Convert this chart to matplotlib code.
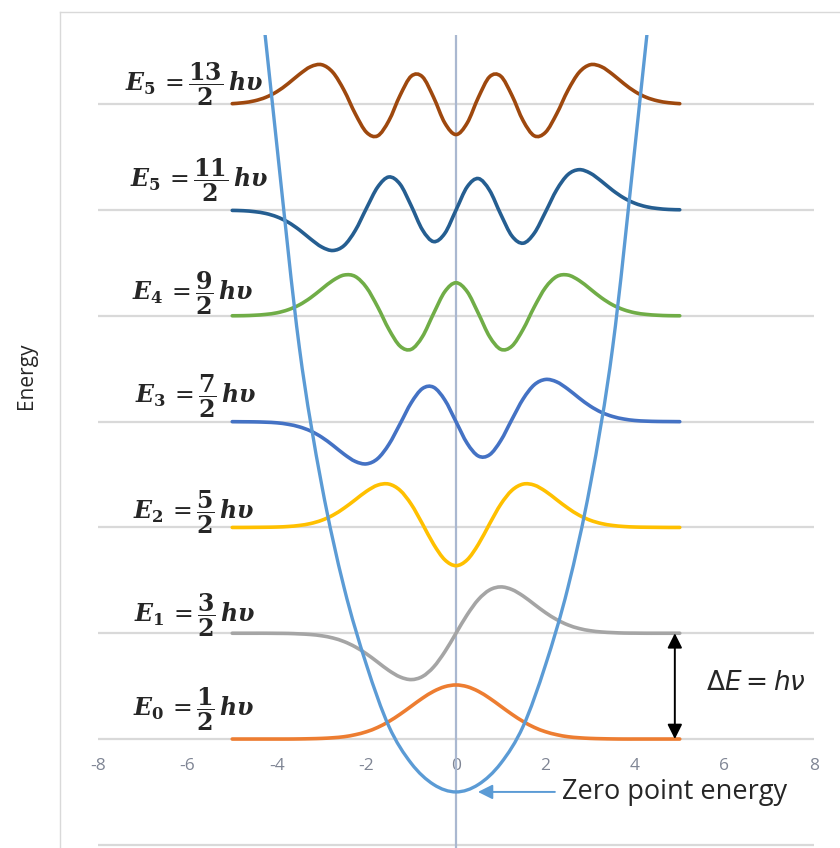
import numpy as np
import matplotlib
matplotlib.use("Agg")
import matplotlib.pyplot as plt
from matplotlib.path import Path
from matplotlib.patches import PathPatch
from matplotlib.lines import Line2D

plt.rcParams["mathtext.fontset"] = "dejavuserif"

# sampling grid of the wave functions (x from -5 to 5, step 0.25)
X = np.linspace(-5, 5, 41)

# energy levels (in units of h*nu)
LEVELS = [0.5, 1.5, 2.5, 3.5, 4.5, 5.5, 6.5]

# wave function values, relative to each level
PSI_0 = [0.000, 0.000, 0.000, 0.000, 0.000, 0.000, 0.001, 0.003, 0.006, 0.012, 0.022, 0.041,
         0.069, 0.110, 0.166, 0.234, 0.310, 0.386, 0.451, 0.495, 0.511, 0.495, 0.451, 0.386,
         0.310, 0.234, 0.166, 0.110, 0.069, 0.041, 0.022, 0.012, 0.006, 0.003, 0.001, 0.000,
         0.000, 0.000, 0.000, 0.000, 0.000]
PSI_1 = [0.000, 0.000, 0.000, 0.000, -0.001, -0.002, -0.006, -0.012, -0.024, -0.045, -0.079,
         -0.129, -0.195, -0.273, -0.352, -0.413, -0.438, -0.409, -0.319, -0.175, 0.000, 0.175,
         0.319, 0.409, 0.438, 0.413, 0.352, 0.273, 0.195, 0.129, 0.079, 0.045, 0.024, 0.012,
         0.006, 0.002, 0.001, 0.000, 0.000, 0.000, 0.000]
PSI_2 = [0.000, 0.000, 0.001, 0.002, 0.004, 0.009, 0.019, 0.037, 0.068, 0.116, 0.183, 0.262,
         0.342, 0.400, 0.410, 0.351, 0.219, 0.034, -0.159, -0.306, -0.361, -0.306, -0.159,
         0.034, 0.219, 0.351, 0.410, 0.400, 0.342, 0.262, 0.183, 0.116, 0.068, 0.037, 0.019,
         0.009, 0.004, 0.002, 0.001, 0.000, 0.000]
PSI_3 = [0.000, -0.001, -0.002, -0.005, -0.011, -0.025, -0.049, -0.088, -0.147, -0.224,
         -0.308, -0.376, -0.399, -0.349, -0.215, -0.021, 0.179, 0.313, 0.325, 0.205, 0.000,
         -0.205, -0.325, -0.313, -0.179, 0.021, 0.215, 0.349, 0.399, 0.376, 0.308, 0.224,
         0.147, 0.088, 0.049, 0.025, 0.011, 0.005, 0.002, 0.001, 0.000]
PSI_4 = [0.001, 0.002, 0.006, 0.014, 0.029, 0.058, 0.104, 0.171, 0.254, 0.335, 0.386, 0.372,
         0.268, 0.085, -0.127, -0.286, -0.316, -0.196, 0.023, 0.229, 0.313, 0.229, 0.023,
         -0.196, -0.316, -0.286, -0.127, 0.085, 0.268, 0.372, 0.386, 0.335, 0.254, 0.171,
         0.104, 0.058, 0.029, 0.014, 0.006, 0.002, 0.001]
PSI_5 = [-0.003, -0.006, -0.015, -0.032, -0.064, -0.115, -0.187, -0.273, -0.349, -0.382,
         -0.335, -0.192, 0.018, 0.218, 0.313, 0.245, 0.040, -0.187, -0.298, -0.220, 0.000,
         0.220, 0.298, 0.187, -0.040, -0.245, -0.313, -0.218, -0.018, 0.192, 0.335, 0.382,
         0.349, 0.273, 0.187, 0.115, 0.064, 0.032, 0.015, 0.006, 0.003]
PSI_6 = [0.006, 0.015, 0.033, 0.066, 0.120, 0.196, 0.283, 0.355, 0.374, 0.301, 0.131, -0.090,
         -0.265, -0.298, -0.155, 0.084, 0.266, 0.260, 0.065, -0.177, -0.286, -0.177, 0.065,
         0.260, 0.266, 0.084, -0.155, -0.298, -0.265, -0.090, 0.131, 0.301, 0.374, 0.355,
         0.283, 0.196, 0.120, 0.066, 0.033, 0.015, 0.006]
WAVES = [PSI_0, PSI_1, PSI_2, PSI_3, PSI_4, PSI_5, PSI_6]

WAVE_COLORS = ["#ED7D31", "#A5A5A5", "#FFC000", "#4472C4", "#70AD47", "#255E91", "#9E480E"]

LEVEL_LABELS = [
    r"$\mathbfit{E}_\mathbf{0}\,=\dfrac{\mathbf{1}}{\mathbf{2}}\,\mathbfit{h\upsilon}$",
    r"$\mathbfit{E}_\mathbf{1}\,=\dfrac{\mathbf{3}}{\mathbf{2}}\,\mathbfit{h\upsilon}$",
    r"$\mathbfit{E}_\mathbf{2}\,=\dfrac{\mathbf{5}}{\mathbf{2}}\,\mathbfit{h\upsilon}$",
    r"$\mathbfit{E}_\mathbf{3}\,=\dfrac{\mathbf{7}}{\mathbf{2}}\,\mathbfit{h\upsilon}$",
    r"$\mathbfit{E}_\mathbf{4}\,=\dfrac{\mathbf{9}}{\mathbf{2}}\,\mathbfit{h\upsilon}$",
    r"$\mathbfit{E}_\mathbf{5}\,=\dfrac{\mathbf{11}}{\mathbf{2}}\,\mathbfit{h\upsilon}$",
    r"$\mathbfit{E}_\mathbf{5}\,=\dfrac{\mathbf{13}}{\mathbf{2}}\,\mathbfit{h\upsilon}$",
]

# potential well
WELL_X = [-4.5, -4.0, -3.5, -3.0, -2.5, -2.0, -1.5, -1.0, -0.5, 0.0,
          0.5, 1.0, 1.5, 2.0, 2.5, 3.0, 3.5, 4.0, 4.5]
WELL_V = [8.1, 6.1, 4.2, 2.9, 1.93, 1.2, 0.62, 0.27, 0.07, 0.0,
          0.07, 0.27, 0.62, 1.2, 1.93, 2.9, 4.2, 6.1, 8.1]

GRID_Y = [-0.5, 0.5, 1.5, 2.5, 3.5, 4.5, 5.5, 6.5]
XTICKS = [-8, -6, -4, -2, 0, 2, 4, 6, 8]
XTICK_LABELS = ["-8", "-6", "-4", "-2", "0", "2", "4", "6", "8"]

# label placement (left edge in x, lift above the level)
LABEL_X = [-7.22, -7.20, -7.22, -7.17, -7.24, -7.28, -7.39]
LABEL_DY = [0.22, 0.11, 0.08, 0.18, 0.15, 0.22, 0.13]


def smooth_path(xs, ys):
    """Smoothed line through the points (like Excel's smoothed scatter)."""
    pts = np.column_stack([xs, ys]).astype(float)
    n = len(pts)
    verts = [pts[0]]
    codes = [Path.MOVETO]
    for i in range(n - 1):
        p0 = pts[i - 1] if i > 0 else pts[i]
        p1 = pts[i]
        p2 = pts[i + 1]
        p3 = pts[i + 2] if i + 2 < n else pts[i + 1]
        verts += [p1 + (p2 - p0) / 6.0, p2 - (p3 - p1) / 6.0, p2]
        codes += [Path.CURVE4] * 3
    return Path(verts, codes)


fig = plt.figure(figsize=(8.4, 8.48), dpi=100)
ax = fig.add_axes([98 / 840, 0, 716 / 840, 1 - 35 / 848])
ax.set_xlim(-8, 8)
ax.set_ylim(-0.53, 7.155)

# horizontal gridlines
ax.set_yticks(GRID_Y)
ax.set_yticklabels([])
ax.grid(True, axis="y", color="#D9D9D9", linewidth=1.6)
ax.set_axisbelow(True)
ax.tick_params(axis="y", length=0)

# x axis crosses at the ground level
for side in ["top", "right", "left"]:
    ax.spines[side].set_visible(False)
ax.spines["bottom"].set_position(("data", 0.5))
ax.spines["bottom"].set_color("none")
ax.set_xticks(XTICKS)
ax.set_xticklabels(XTICK_LABELS, fontfamily="Open Sans", fontsize=12.5, color="#7F8594")
ax.tick_params(axis="x", length=0, pad=14)

# vertical axis at x = 0
ax.axvline(0, color="#AAB8D0", linewidth=1.6, zorder=1)

# wave functions
for level, psi, color in zip(LEVELS, WAVES, WAVE_COLORS):
    path = smooth_path(X, np.array(psi) + level)
    ax.add_patch(PathPatch(path, facecolor="none", edgecolor=color, linewidth=2.6,
                           capstyle="round", zorder=3))

# potential well
ax.add_patch(PathPatch(smooth_path(WELL_X, WELL_V), facecolor="none", edgecolor="#5B9BD5",
                       linewidth=2.4, zorder=4))

# level labels
for level, label, lx, dy in zip(LEVELS, LEVEL_LABELS, LABEL_X, LABEL_DY):
    ax.text(lx, level + dy, label, ha="left", va="baseline", fontsize=17, color="#262626")

# delta E arrow
ax.annotate("", xy=(4.89, LEVELS[1]), xytext=(4.89, LEVELS[0]),
            arrowprops=dict(arrowstyle="<|-|>", color="black", linewidth=1.4,
                            mutation_scale=22, shrinkA=0, shrinkB=0), zorder=5)
ax.text(6.70, 1.03, r"$\Delta E = h\nu$", ha="center", va="center", fontsize=19,
        color="#262626", math_fontfamily="dejavusans")

# zero point energy
ax.annotate("", xy=(0.49, 0.0), xytext=(2.21, 0.0),
            arrowprops=dict(arrowstyle="-|>", color="#5B9BD5", linewidth=1.4,
                            mutation_scale=22, shrinkA=0, shrinkB=0), zorder=5)
ax.text(2.37, 0.0, "Zero point energy", ha="left", va="center", fontsize=19.5,
        fontfamily="Open Sans", color="#262626")

# chart frame and axis title
fig.add_artist(Line2D([60 / 840, 1], [1 - 12 / 848, 1 - 12 / 848], color="#D9D9D9", linewidth=1))
fig.add_artist(Line2D([60 / 840, 60 / 840], [0, 1 - 12 / 848], color="#D9D9D9", linewidth=1))
fig.text(27 / 840, 1 - 376 / 848, "Energy", rotation=90, ha="center", va="center",
         fontsize=15, fontfamily="Open Sans", color="#262626")

fig.savefig("out.png", dpi=100)
